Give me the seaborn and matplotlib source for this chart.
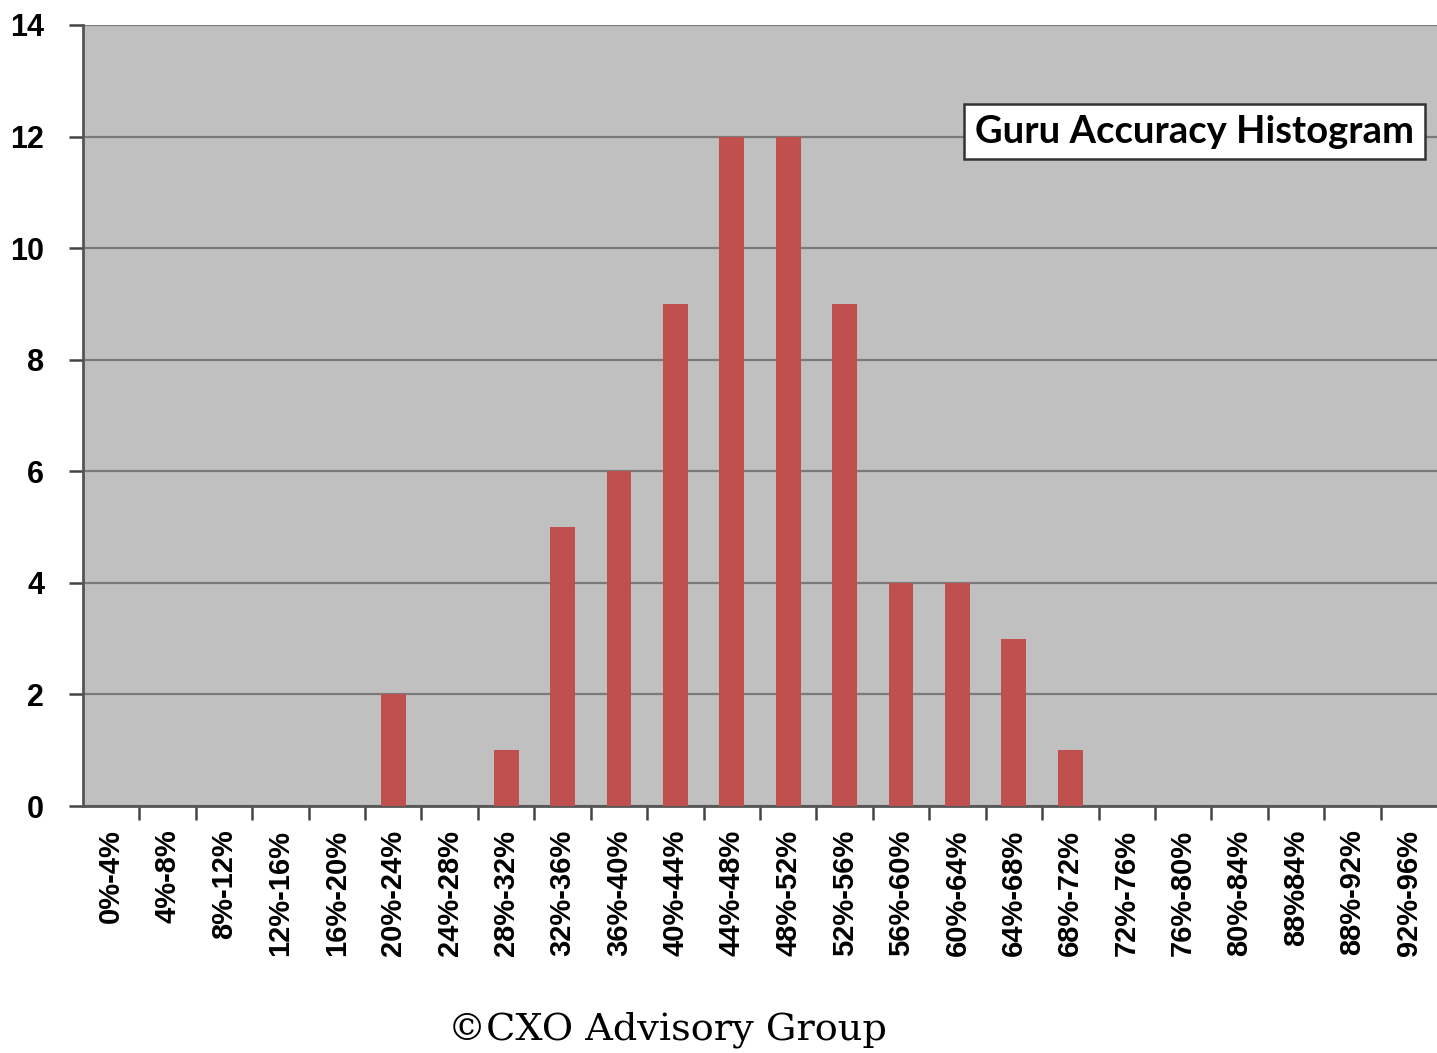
import numpy as np
import pandas as pd
import matplotlib
matplotlib.use("Agg")
import matplotlib.pyplot as plt
import seaborn as sns

# DATA.

bins = ["0%-4%", "4%-8%", "8%-12%", "12%-16%", "16%-20%", "20%-24%",
        "24%-28%", "28%-32%", "32%-36%", "36%-40%", "40%-44%", "44%-48%",
        "48%-52%", "52%-56%", "56%-60%", "60%-64%", "64%-68%", "68%-72%",
        "72%-76%", "76%-80%", "80%-84%", "88%84%", "88%-92%", "92%-96%"]
counts = [0, 0, 0, 0, 0, 2, 0, 1, 5, 6, 9, 12, 12, 9, 4, 4, 3, 1, 0, 0, 0, 0, 0, 0]
y_ticks = [0, 2, 4, 6, 8, 10, 12, 14]

df = pd.DataFrame({"bin": bins, "count": counts})

# FIGURE.

W, H = 1437, 1053
fig = plt.figure(figsize=(W / 100, H / 100), dpi=100, facecolor="white")
ax = fig.add_axes([83 / W, (H - 806) / H, (W - 83) / W, (806 - 25) / H])
ax.set_facecolor("#c0c0c0")

sns.barplot(data=df, x="bin", y="count", color="#c0504d", width=0.44,
            saturation=1, ax=ax, zorder=3)

ax.set_ylim(0, 14)
ax.set_xlim(-0.5, len(bins) - 0.5)
ax.set_yticks(y_ticks)
ax.set_yticklabels([str(t) for t in y_ticks], fontsize=22, fontweight="bold",
                   family="Liberation Sans")
ax.grid(axis="y", color="#7a7a7a", linewidth=1.6, zorder=1)
ax.grid(axis="x", visible=False)
ax.set_axisbelow(True)

# Ticks between categories, labels under the bars.
ax.set_xticks(np.arange(len(bins) - 1) + 0.5)
ax.set_xticklabels([])
ax.set_xticks(np.arange(len(bins)), minor=True)
ax.set_xticklabels(bins, minor=True, rotation=90, fontsize=21, fontweight="bold",
                   family="Liberation Sans")
ax.tick_params(axis="x", which="major", length=10, width=1.8, color="#444444")
ax.tick_params(axis="x", which="minor", length=0, pad=17)
ax.tick_params(axis="y", length=10, width=1.8, color="#444444", pad=18)

ax.set_xlabel("")
ax.set_ylabel("")
for side in ["top", "right"]:
    ax.spines[side].set_visible(False)
for side in ["left", "bottom"]:
    ax.spines[side].set_color("#555555")
    ax.spines[side].set_linewidth(2)

# Title box.
ax.text(0.983, 0.8636, "Guru Accuracy Histogram", transform=ax.transAxes,
        ha="right", va="center", fontsize=27.5, fontweight="bold", family="Lato",
        bbox=dict(boxstyle="square,pad=0.28", facecolor="white",
                  edgecolor="#333333", linewidth=1.8), zorder=5)

# Copyright footer.
fig.text(667 / W, 1 - 1030 / H, "\u00a9CXO Advisory Group", ha="center",
         va="center", fontsize=27.5, family="DejaVu Serif")

fig.savefig("out.png", dpi=100, facecolor="white")
